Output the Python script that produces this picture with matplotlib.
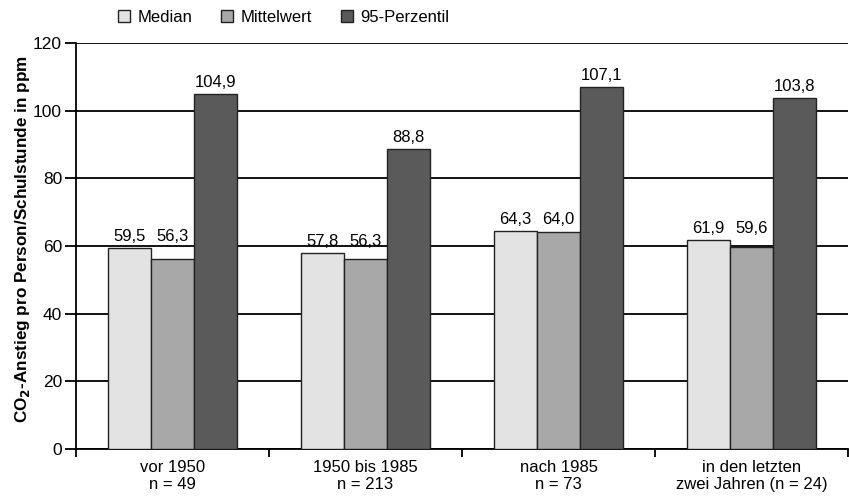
import matplotlib.pyplot as plt
import numpy as np

plt.rcParams['font.family'] = ['Liberation Sans', 'DejaVu Sans']

groups = ['vor 1950\nn = 49', '1950 bis 1985\nn = 213', 'nach 1985\nn = 73',
          'in den letzten\nzwei Jahren (n = 24)']
series = ['Median', 'Mittelwert', '95-Perzentil']
median = [59.5, 57.8, 64.3, 61.9]
mittelwert = [56.3, 56.3, 64.0, 59.6]
perzentil95 = [104.9, 88.8, 107.1, 103.8]
colors = ['#e3e3e3', '#a8a8a8', '#5a5a5a']

fig = plt.figure(figsize=(8.49, 5.0), dpi=100)
ax = fig.add_axes([0.0895, 0.102, 0.9095, 0.812])

x = np.arange(len(groups))
w = 0.222
all_vals = [median, mittelwert, perzentil95]
for i, (vals, c, name) in enumerate(zip(all_vals, colors, series)):
    pos = x + (i - 1) * w
    ax.bar(pos, vals, w, color=c, edgecolor='#222222', linewidth=1.0, label=name, zorder=3)
    for j, (p, v) in enumerate(zip(pos, vals)):
        # median and mean labels share one baseline above the taller of the two
        base = v if i == 2 else max(median[j], mittelwert[j])
        ax.text(p, base + 1.2, f'{v:.1f}'.replace('.', ','), ha='center', va='bottom',
                fontsize=12, zorder=4)

ax.set_xlim(-0.5, len(groups) - 0.5)
ax.set_ylim(0, 120)
ax.set_yticks(range(0, 121, 20))
ax.yaxis.grid(True, color='black', linewidth=1.3, zorder=0)
ax.set_xticks(np.arange(-0.5, len(groups), 1.0), minor=False)
ax.set_xticklabels([])
ax.set_xticks(x, minor=True)
ax.set_xticklabels(groups, minor=True, fontsize=12, linespacing=1.15)
ax.tick_params(axis='x', which='minor', length=0, pad=8)
ax.tick_params(axis='x', which='major', length=6, width=1.3)
ax.tick_params(axis='y', length=8, width=1.3, labelsize=12.5, pad=2)

for s in ['top', 'right']:
    ax.spines[s].set_visible(False)
for s in ['left', 'bottom']:
    ax.spines[s].set_linewidth(1.3)

ax.set_ylabel(r'CO$_\mathbf{2}$-Anstieg pro Person/Schulstunde in ppm',
              fontsize=12.3, fontweight='bold')
ax.yaxis.set_label_coords(-0.057, 0.517)

ax.legend(loc='center left', bbox_to_anchor=(0.054, 1.064), ncol=3, frameon=False,
          fontsize=12, handlelength=0.75, handleheight=0.75, columnspacing=1.7,
          handletextpad=0.45, borderaxespad=0, borderpad=0)

fig.savefig('out.png', dpi=100)
